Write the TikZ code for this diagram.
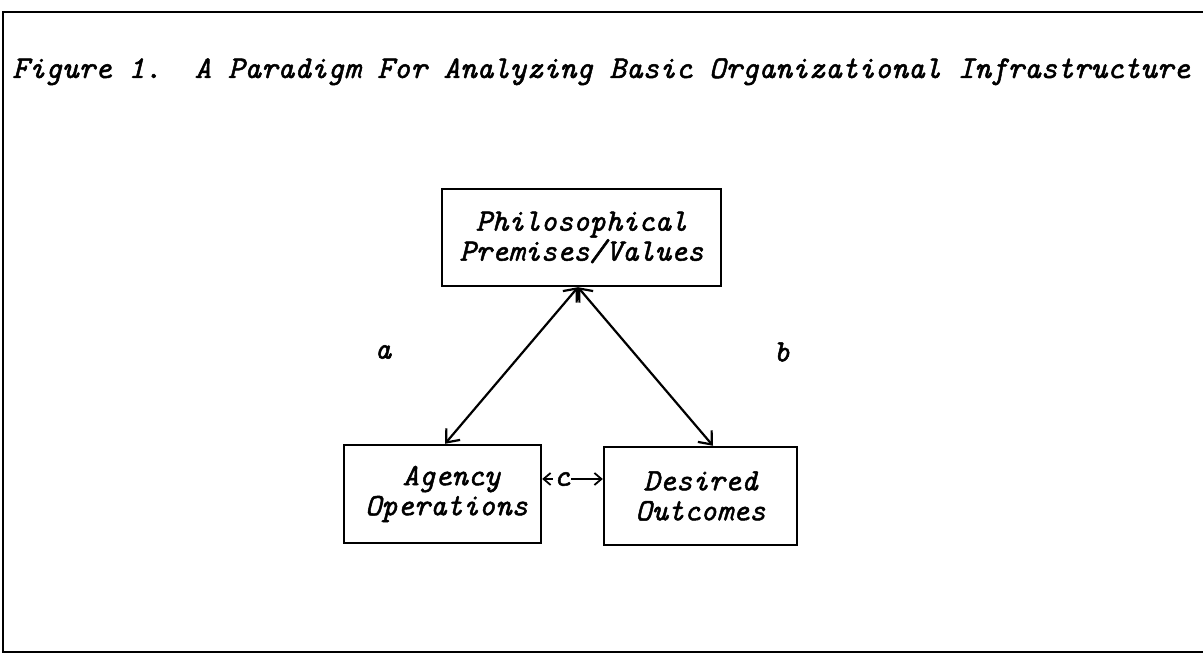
\documentclass[tikz,border=0pt]{standalone}
\usepackage{fontspec}
\newfontfamily\typed{lmmono10-italic}[Extension=.otf, FakeBold=1.6]
\usetikzlibrary{arrows.meta}
\begin{document}
\begin{tikzpicture}[x=1pt,y=1pt,
  every node/.style={font=\typed\fontsize{31}{30}\selectfont},
  fig/.style={draw, line width=2.4pt, minimum width=#1, minimum height=98pt,
    inner sep=0pt, align=center},
  link/.style={line width=2.2pt, {Straight Barb[length=11pt,width=18pt,line width=2.2pt]}-{Straight Barb[length=11pt,width=18pt,line width=2.2pt]}},
  small/.style={line width=1.8pt, -{Straight Barb[length=7pt,width=12pt,line width=1.8pt]}}
]
\useasboundingbox (0,0) rectangle (1203,656);

% frame, open on the right
\draw[line width=2.6pt] (1203,644) -- (3,644) -- (3,4) -- (1203,4);

% caption
\node[anchor=base west, inner sep=0pt, font=\typed\fontsize{31.6}{30}\selectfont]
  (title) at (12,578) {Figure 1.\hspace{1.05em}A Paradigm For Analyzing Basic Organizational Infrastructure};

% the three elements
\node[fig=279pt, minimum height=97pt] (P) at (581.5,418.5) {Philosophical\\Premises/Values};
\node[fig=197pt] (A) at (442.5,162) {\hspace*{18pt}Agency\\\hspace*{8pt}Operations};
\node[fig=193pt] (D) at (700.5,160) {Desired\\Outcomes};

% links between them
\coordinate (Pa) at ([xshift=-3.5pt]P.south);
\coordinate (An) at ([xshift=2.5pt]A.north);
\coordinate (Dn) at ([xshift=12.5pt]D.north);
\draw[link] (Pa) -- (An);
\draw[link] (Pa) -- (Dn);

\node (a) at (383,304) {a};
\node (b) at (782,304) {b};

\node[inner sep=1pt] (c) at (562,177) {c};
\draw[small] (c.west) -- (c.west -| A.east);
\draw[small] (c.east) -- (c.east -| D.west);
\end{tikzpicture}
\end{document}
